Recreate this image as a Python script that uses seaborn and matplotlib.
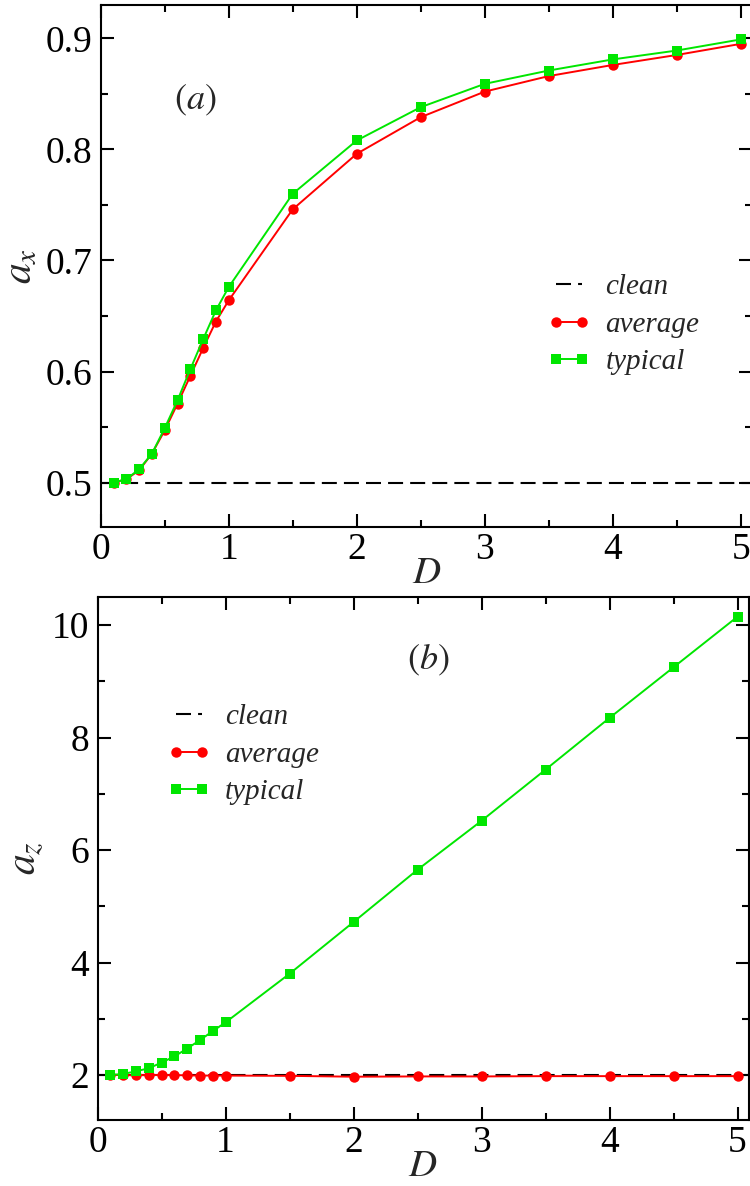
import numpy as np
import pandas as pd
import matplotlib
matplotlib.use("Agg")
import matplotlib.pyplot as plt
from matplotlib.ticker import MultipleLocator
import seaborn as sns

# Disorder strength D
D = [0.1, 0.2, 0.3, 0.4, 0.5, 0.6, 0.7, 0.8, 0.9, 1.0,
     1.5, 2.0, 2.5, 3.0, 3.5, 4.0, 4.5, 5.0]

# (a) anisotropy exponent a_x
ax_clean = 0.5
ax_average = [0.500, 0.503, 0.511, 0.526, 0.547, 0.571, 0.596, 0.621, 0.645, 0.664,
              0.746, 0.796, 0.829, 0.852, 0.866, 0.876, 0.885, 0.895]
ax_typical = [0.500, 0.503, 0.512, 0.526, 0.549, 0.574, 0.602, 0.629, 0.655, 0.676,
              0.760, 0.808, 0.838, 0.859, 0.871, 0.881, 0.889, 0.899]

# (b) anisotropy exponent a_z
az_clean = 2.0
az_average = [2.00, 2.00, 1.995, 2.00, 2.00, 1.998, 1.995, 1.99, 1.99, 1.99,
              1.985, 1.97, 1.975, 1.975, 1.98, 1.98, 1.98, 1.98]
az_typical = [2.00, 2.02, 2.065, 2.12, 2.22, 2.33, 2.47, 2.62, 2.78, 2.935,
              3.80, 4.72, 5.65, 6.52, 7.43, 8.35, 9.25, 10.15]

sns.set_style("ticks")
plt.rcParams["font.family"] = ["Liberation Serif", "DejaVu Serif"]
plt.rcParams["mathtext.fontset"] = "stix"

W, H = 750, 1186
fig = plt.figure(figsize=(W / 100, H / 100), dpi=100)

def frac(left, top, right, bottom):
    return [left / W, 1 - bottom / H, (right - left) / W, (bottom - top) / H]

ax1 = fig.add_axes(frac(100.7, 5, 100.7 + 5.09 * 128, 527))
ax2 = fig.add_axes(frac(97.5, 597, 97.5 + 5.09 * 128, 1120))

RED = "#ff0000"
GREEN = "#00e600"

def draw(ax, clean, avg, typ, ylim, ymaj, ymin_, ylabel, tag, tagpos, legloc):
    ax.axhline(clean, color="black", lw=1.5, dashes=(7.2, 3.4), label="clean", zorder=1)
    df = pd.DataFrame({"D": D, "average": avg, "typical": typ})
    sns.lineplot(data=df, x="D", y="average", ax=ax, color=RED, lw=1.4,
                 marker="o", markersize=7.5, markeredgewidth=0, label="average", zorder=2)
    sns.lineplot(data=df, x="D", y="typical", ax=ax, color=GREEN, lw=1.4,
                 marker="s", markersize=6.5, markeredgewidth=0, label="typical", zorder=3)
    ax.set_xlim(0, 5.09)
    ax.set_ylim(*ylim)
    ax.xaxis.set_major_locator(MultipleLocator(1))
    ax.xaxis.set_minor_locator(MultipleLocator(0.5))
    ax.yaxis.set_major_locator(MultipleLocator(ymaj))
    ax.yaxis.set_minor_locator(MultipleLocator(ymin_))
    ax.tick_params(which="both", direction="in", top=True, right=True,
                   width=1.5, colors="black", labelsize=27)
    ax.tick_params(axis="x", pad=4)
    ax.tick_params(axis="y", pad=6)
    ax.tick_params(which="major", length=9.5)
    ax.tick_params(which="minor", length=5)
    for s in ax.spines.values():
        s.set_linewidth(1.5)
        s.set_color("black")
    ax.set_xlabel(r"$D$", fontsize=28, labelpad=-9)
    ax.set_ylabel(ylabel, fontsize=30, labelpad=4)
    ax.text(tagpos[0], tagpos[1], tag, transform=ax.transAxes, fontsize=26,
            ha="center", va="center")
    leg = ax.legend(loc="upper left", bbox_to_anchor=legloc, frameon=False,
                    numpoints=2, handlelength=1.5, handletextpad=0.5,
                    labelspacing=0.38, prop={"style": "italic", "size": 21})
    return leg

draw(ax1, ax_clean, ax_average, ax_typical, (0.46, 0.93), 0.1, 0.05,
     r"$a_x$", r"$(a)$", (0.145, 0.818), (0.645, 0.535))
draw(ax2, az_clean, az_average, az_typical, (1.2, 10.5), 2, 1,
     r"$a_z$", r"$(b)$", (0.507, 0.878), (0.066, 0.846))

fig.savefig("out.png", dpi=100)
